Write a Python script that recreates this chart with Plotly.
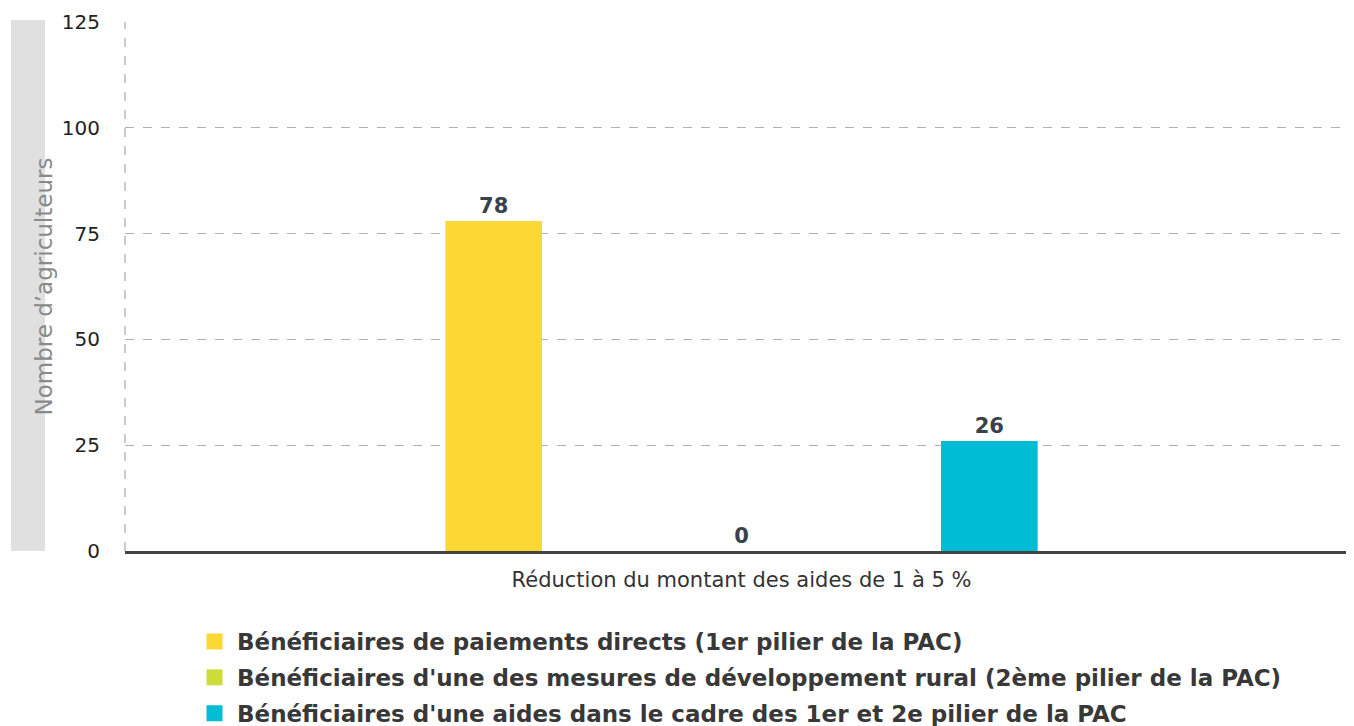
import plotly.graph_objects as go

categories = ["Réduction du montant des aides de 1 à 5 %"]
series_names = [
    "Bénéficiaires de paiements directs (1er pilier de la PAC)",
    "Bénéficiaires d'une des mesures de développement rural (2ème pilier de la PAC)",
    "Bénéficiaires d'une aides dans le cadre des 1er et 2e pilier de la PAC",
]
series_values = [[78], [0], [26]]
series_colors = ["#FDD835", "#CDDC39", "#00BCD4"]
y_ticks = [0, 25, 50, 75, 100, 125]
y_title = "Nombre d’agriculteurs"

FONT = "DejaVu Sans"
W, H = 1354, 718
L, R, T, B = 117, 4, 14, 175
PW = W - L - R

fig = go.Figure()
for i, (name, vals, col) in enumerate(zip(series_names, series_values, series_colors)):
    fig.add_trace(go.Bar(
        x=categories, y=vals, name=name, marker=dict(color=col, line=dict(width=0)),
        text=vals, texttemplate="<b>%{y}</b>", textposition="outside",
        textfont=dict(family=FONT, size=21, color="#37424a"),
        cliponaxis=False, legendgroup=f"g{i}", showlegend=False,
    ))
# legend entries with larger square swatches
for i, (name, col) in enumerate(zip(series_names, series_colors)):
    fig.add_trace(go.Scatter(
        x=[None], y=[None], mode="markers", name=name,
        marker=dict(symbol="square", size=20, color=col),
        legendgroup=f"g{i}", showlegend=True,
    ))

fig.update_layout(
    width=W, height=H,
    margin=dict(l=L, r=R, t=T, b=B, autoexpand=False),
    paper_bgcolor="white", plot_bgcolor="white",
    barmode="group", bargap=0.397, bargroupgap=0.61,
    font=dict(family=FONT, color="#333333"),
    showlegend=True,
    legend=dict(
        orientation="v", xref="container", yref="container",
        x=184 / W, y=(H - 612) / H, xanchor="left", yanchor="top",
        font=dict(family=FONT, size=23, color="#383838", weight="bold"),
        traceorder="grouped", tracegroupgap=3,
        itemwidth=35, itemsizing="trace",
    ),
    xaxis=dict(
        showgrid=False, showline=True, linecolor="#444444", linewidth=3,
        tickfont=dict(family=FONT, size=21, color="#333333"),
        ticks="", fixedrange=True, automargin=False, ticklabelstandoff=8,
    ),
    yaxis=dict(
        range=[0, 125], tickvals=y_ticks, showgrid=True,
        gridcolor="#b0b0b0", griddash="dash", gridwidth=1.3,
        zeroline=False, ticks="", ticklabelstandoff=24, automargin=False,
        tickfont=dict(family=FONT, size=20, color="#222222"),
    ),
)

# left dashed axis line
fig.add_shape(type="line", xref="paper", yref="paper", x0=0, x1=0, y0=0, y1=1,
              line=dict(color="#b0b0b0", width=1.3, dash="dash"))
# gray title box
fig.add_shape(type="rect", xref="paper", yref="paper",
              x0=-114 / PW, x1=-80 / PW, y0=0, y1=1.004,
              fillcolor="#e0e0e0", line=dict(width=0), layer="below")
fig.add_annotation(text=y_title, xref="paper", yref="paper",
                   x=-97 / PW, y=0.5, textangle=-90, showarrow=False,
                   font=dict(family=FONT, size=23, color="#8a8a8a"))

fig.write_html("out.html")
